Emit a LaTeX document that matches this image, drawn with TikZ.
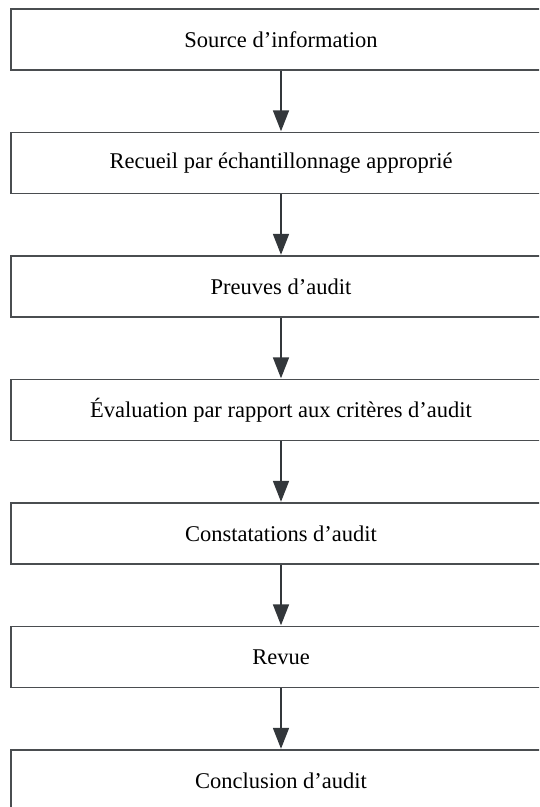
\documentclass[tikz,border=0pt]{standalone}
\usepackage{fontspec}
\setmainfont{Liberation Serif}
\usetikzlibrary{arrows.meta}
\definecolor{edgegray}{HTML}{4A4D50}
\definecolor{arrowgray}{HTML}{33373B}
\tikzset{
  etape/.style={draw=edgegray, line width=1.4pt, fill=white, minimum width=540pt, minimum height=61pt, inner sep=0pt, font=\fontsize{22.5}{26}\selectfont},
  fleche/.style={draw=arrowgray, line width=1.8pt, -{Triangle[length=21pt,width=16pt]}, shorten >=0.5pt}
}
\begin{document}
\begin{tikzpicture}[x=1pt,y=-1pt]
		%%%%% START %%%%%
		
		\useasboundingbox (0, 0) rectangle (539, 807);
		\clip (0, 0) rectangle (539, 807);
		
		\node[etape] (source) at (281, 39.5) {Source d’information};
		\node[etape] (recueil) at (281, 163) {Recueil par échantillonnage approprié};
		\node[etape] (preuves) at (281, 286.5) {Preuves d’audit};
		\node[etape] (evaluation) at (281, 410) {Évaluation par rapport aux critères d’audit};
		\node[etape] (constat) at (281, 533.5) {Constatations d’audit};
		\node[etape] (revue) at (281, 657) {Revue};
		\node[etape] (conclusion) at (281, 780.5) {Conclusion d’audit};
		
		\draw[fleche] (source) -- (recueil);
		\draw[fleche] (recueil) -- (preuves);
		\draw[fleche] (preuves) -- (evaluation);
		\draw[fleche] (evaluation) -- (constat);
		\draw[fleche] (constat) -- (revue);
		\draw[fleche] (revue) -- (conclusion);
		
		%%%%% END %%%%%
	\end{tikzpicture}
\end{document}
